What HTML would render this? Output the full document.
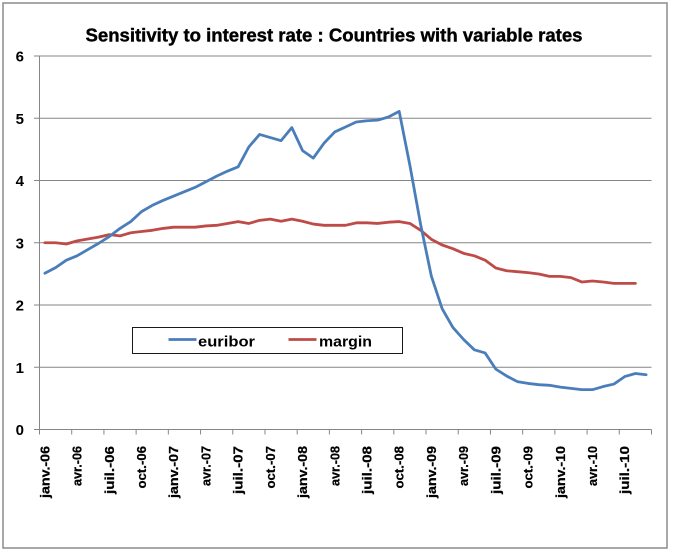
<!DOCTYPE html>
<html>
<head>
<meta charset="utf-8">
<style>
html,body{margin:0;padding:0;background:#fff;}
body{width:673px;height:555px;overflow:hidden;}
svg{display:block;}
text{font-family:"Liberation Sans",sans-serif;font-weight:bold;fill:#000;}
</style>
</head>
<body>
<svg width="673" height="555" viewBox="0 0 673 555" xmlns="http://www.w3.org/2000/svg">
<rect x="0" y="0" width="673" height="555" fill="#fff"/>
<rect x="3" y="3" width="664" height="545" fill="#fff" stroke="#8c8c8c" stroke-width="1.5"/>

<text x="334" y="41.5" font-size="18" text-anchor="middle" textLength="497" lengthAdjust="spacingAndGlyphs" stroke="#000" stroke-width="0.4">Sensitivity to interest rate : Countries with variable rates</text>

<!-- gridlines -->
<g stroke="#868686" stroke-width="1">
<line x1="34" y1="56" x2="651.5" y2="56"/>
<line x1="34" y1="118.25" x2="651.5" y2="118.25"/>
<line x1="34" y1="180.5" x2="651.5" y2="180.5"/>
<line x1="34" y1="242.75" x2="651.5" y2="242.75"/>
<line x1="34" y1="305" x2="651.5" y2="305"/>
<line x1="34" y1="367.25" x2="651.5" y2="367.25"/>
<line x1="34" y1="429.5" x2="651.5" y2="429.5"/>
<line x1="39.5" y1="56" x2="39.5" y2="429.5"/>
</g>
<!-- x ticks -->
<g stroke="#868686" stroke-width="1">
<line x1="39.5" y1="429.5" x2="39.5" y2="434.5"/>
<line x1="71.71" y1="429.5" x2="71.71" y2="434.5"/>
<line x1="103.92" y1="429.5" x2="103.92" y2="434.5"/>
<line x1="136.13" y1="429.5" x2="136.13" y2="434.5"/>
<line x1="168.34" y1="429.5" x2="168.34" y2="434.5"/>
<line x1="200.55" y1="429.5" x2="200.55" y2="434.5"/>
<line x1="232.76" y1="429.5" x2="232.76" y2="434.5"/>
<line x1="264.97" y1="429.5" x2="264.97" y2="434.5"/>
<line x1="297.18" y1="429.5" x2="297.18" y2="434.5"/>
<line x1="329.39" y1="429.5" x2="329.39" y2="434.5"/>
<line x1="361.6" y1="429.5" x2="361.6" y2="434.5"/>
<line x1="393.81" y1="429.5" x2="393.81" y2="434.5"/>
<line x1="426.02" y1="429.5" x2="426.02" y2="434.5"/>
<line x1="458.23" y1="429.5" x2="458.23" y2="434.5"/>
<line x1="490.44" y1="429.5" x2="490.44" y2="434.5"/>
<line x1="522.65" y1="429.5" x2="522.65" y2="434.5"/>
<line x1="554.86" y1="429.5" x2="554.86" y2="434.5"/>
<line x1="587.07" y1="429.5" x2="587.07" y2="434.5"/>
<line x1="619.28" y1="429.5" x2="619.28" y2="434.5"/>
<line x1="651.5" y1="429.5" x2="651.5" y2="434.5"/>
</g>

<!-- y labels -->
<g font-size="15" text-anchor="end">
<text x="24" y="61.5">6</text>
<text x="24" y="123.75">5</text>
<text x="24" y="186">4</text>
<text x="24" y="248.25">3</text>
<text x="24" y="310.5">2</text>
<text x="24" y="372.75">1</text>
<text x="24" y="435">0</text>
</g>

<!-- x labels -->
<g font-size="13" text-anchor="end" stroke="#000" stroke-width="0.25">
<text transform="translate(49.4,446) rotate(-90)" textLength="52" lengthAdjust="spacingAndGlyphs">janv.-06</text>
<text transform="translate(81.6,446) rotate(-90)" textLength="40" lengthAdjust="spacingAndGlyphs">avr.-06</text>
<text transform="translate(113.8,446) rotate(-90)" textLength="48" lengthAdjust="spacingAndGlyphs">juil.-06</text>
<text transform="translate(146.0,446) rotate(-90)" textLength="42.5" lengthAdjust="spacingAndGlyphs">oct.-06</text>
<text transform="translate(178.2,446) rotate(-90)" textLength="52" lengthAdjust="spacingAndGlyphs">janv.-07</text>
<text transform="translate(210.4,446) rotate(-90)" textLength="40" lengthAdjust="spacingAndGlyphs">avr.-07</text>
<text transform="translate(242.6,446) rotate(-90)" textLength="48" lengthAdjust="spacingAndGlyphs">juil.-07</text>
<text transform="translate(274.9,446) rotate(-90)" textLength="42.5" lengthAdjust="spacingAndGlyphs">oct.-07</text>
<text transform="translate(307.1,446) rotate(-90)" textLength="52" lengthAdjust="spacingAndGlyphs">janv.-08</text>
<text transform="translate(339.3,446) rotate(-90)" textLength="40" lengthAdjust="spacingAndGlyphs">avr.-08</text>
<text transform="translate(371.5,446) rotate(-90)" textLength="48" lengthAdjust="spacingAndGlyphs">juil.-08</text>
<text transform="translate(403.7,446) rotate(-90)" textLength="42.5" lengthAdjust="spacingAndGlyphs">oct.-08</text>
<text transform="translate(435.9,446) rotate(-90)" textLength="52" lengthAdjust="spacingAndGlyphs">janv.-09</text>
<text transform="translate(468.1,446) rotate(-90)" textLength="40" lengthAdjust="spacingAndGlyphs">avr.-09</text>
<text transform="translate(500.3,446) rotate(-90)" textLength="48" lengthAdjust="spacingAndGlyphs">juil.-09</text>
<text transform="translate(532.5,446) rotate(-90)" textLength="42.5" lengthAdjust="spacingAndGlyphs">oct.-09</text>
<text transform="translate(564.8,446) rotate(-90)" textLength="52" lengthAdjust="spacingAndGlyphs">janv.-10</text>
<text transform="translate(597.0,446) rotate(-90)" textLength="40" lengthAdjust="spacingAndGlyphs">avr.-10</text>
<text transform="translate(629.2,446) rotate(-90)" textLength="48" lengthAdjust="spacingAndGlyphs">juil.-10</text>
</g>

<!-- margin series -->
<polyline fill="none" stroke="#be4b48" stroke-width="2.8" stroke-linejoin="round" stroke-linecap="round" points="
44.87,242.75 55.61,242.75 66.34,243.99 77.08,240.88 87.82,239.01 98.56,237.15 109.29,234.66 120.03,235.90 130.77,232.79 141.50,231.54
152.24,230.30 162.98,228.43 173.71,227.19 184.45,227.19 195.19,227.19 205.93,225.94 216.66,225.32 227.40,223.45 238.14,221.58 248.87,223.45
259.61,220.34 270.35,219.09 281.08,221.27 291.82,219.09 302.56,221.27 313.30,224.07 324.03,225.32 334.77,225.32 345.51,225.32 356.24,222.83
366.98,222.83 377.72,223.45 388.45,222.21 399.19,221.58 409.93,223.45 420.67,230.30 431.40,239.33 442.14,244.99 452.88,248.66 463.61,253.33
474.35,255.82 485.09,260.18 495.82,268.02 506.56,270.76 517.30,271.70 528.04,272.63 538.77,274.00 549.51,276.36 560.25,276.36 570.98,277.61
581.72,281.97 592.46,281.03 603.19,281.97 613.93,283.34 624.67,283.34 635.41,283.34"/>

<!-- euribor series -->
<polyline fill="none" stroke="#4a7ebb" stroke-width="2.8" stroke-linejoin="round" stroke-linecap="round" points="
44.87,273.25 55.61,267.65 66.34,260.18 77.08,255.82 87.82,249.60 98.56,243.37 109.29,236.52 120.03,228.43 130.77,221.58 141.50,211.62
152.24,205.40 162.98,200.42 173.71,196.06 184.45,191.70 195.19,187.35 205.93,181.74 216.66,176.14 227.40,171.16 238.14,166.80 248.87,146.88
259.61,134.43 270.35,137.55 281.08,140.66 291.82,127.59 302.56,150.62 313.30,158.09 324.03,143.15 334.77,131.94 345.51,126.96 356.24,121.98
366.98,120.74 377.72,120.12 388.45,117.00 399.19,111.40 409.93,165.56 420.67,224.70 431.40,276.36 442.14,308.73 452.88,327.41 463.61,339.50
474.35,349.82 485.09,352.93 495.82,369.12 506.56,375.96 517.30,381.57 528.04,383.43 538.77,384.68 549.51,385.30 560.25,387.17 570.98,388.41
581.72,389.66 592.46,389.66 603.19,386.55 613.93,384.06 624.67,376.59 635.41,373.47 646.14,374.72"/>

<!-- legend -->
<rect x="132.5" y="327.5" width="270" height="26" fill="#fff" stroke="#1a1a1a" stroke-width="1"/>
<line x1="168.5" y1="339.5" x2="196.5" y2="339.5" stroke="#4a7ebb" stroke-width="2.8"/>
<text x="198" y="346.5" font-size="15" textLength="57" lengthAdjust="spacingAndGlyphs">euribor</text>
<line x1="288.5" y1="339.5" x2="316.5" y2="339.5" stroke="#be4b48" stroke-width="2.8"/>
<text x="319" y="346.5" font-size="15" textLength="53" lengthAdjust="spacingAndGlyphs">margin</text>
</svg>
</body>
</html>
